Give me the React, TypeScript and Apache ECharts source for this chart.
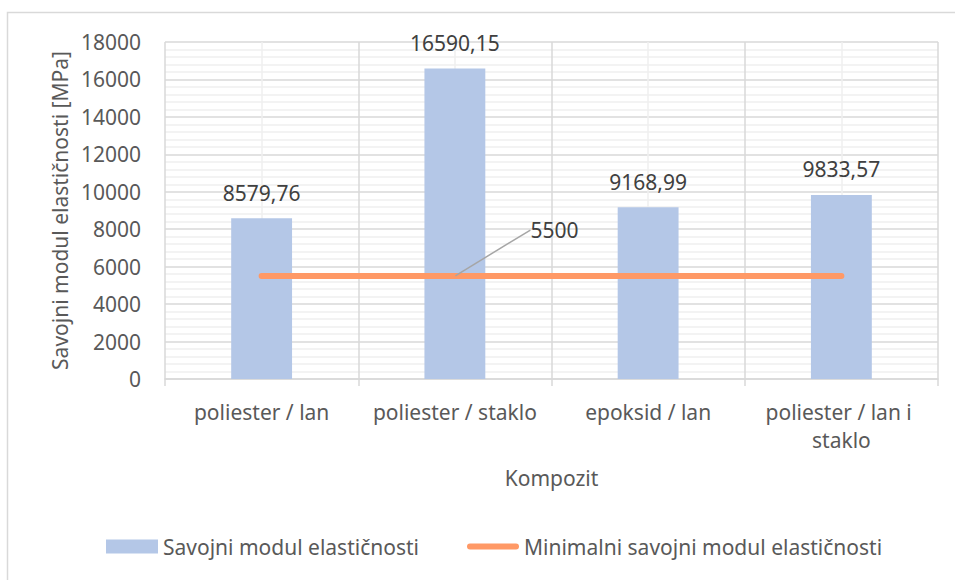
import React, { useEffect, useRef } from "react";
import * as echarts from "echarts";

const categories = ["poliester / lan", "poliester / staklo", "epoksid / lan", "poliester / lan i staklo"];
const modulusValues = [8579.76, 16590.15, 9168.99, 9833.57];
const minimumValues = [5500, 5500, 5500, 5500];
const seriesNames = ["Savojni modul elastičnosti", "Minimalni savojni modul elastičnosti"];
const yAxisTitle = "Savojni modul elastičnosti [MPa]";
const xAxisTitle = "Kompozit";
const labelledMinIndex = 1;

const FONT = "'Noto Sans', sans-serif";
const TEXT = "#595959";
const DARK = "#404040";
const GRID = "#D9D9D9";
const MINOR = "#EFEFEF";
const BAR = "#B4C7E7";
const ORANGE = "#FF9966";

export default function App() {
  const ref = useRef<HTMLDivElement>(null);
  useEffect(() => {
    if (!ref.current) return;
    const chart = echarts.init(ref.current, null, { renderer: "svg" });
    const fmt = (v: number) => v.toFixed(2).replace(".", ",");
    chart.setOption({
      animation: false,
      textStyle: { fontFamily: FONT },
      graphic: [
        {
          type: "rect",
          z: -10,
          shape: { x: 7.5, y: 12.5, width: 960, height: 580 },
          style: { fill: "none", stroke: GRID, lineWidth: 1.5 },
        },
      ],
      grid: { left: 165, right: 17, top: 42, bottom: 201 },
      legend: {
        left: 106,
        top: 536,
        padding: 0,
        itemWidth: 52,
        itemHeight: 14,
        itemGap: 48,
        textStyle: { fontSize: 21, color: TEXT, fontFamily: FONT },
        data: [
          { name: seriesNames[0], icon: "rect" },
          {
            name: seriesNames[1],
            icon: "path://M3,0 L49,0 A3,3 0 0 1 49,6 L3,6 A3,3 0 0 1 3,0 Z",
          },
        ],
      },
      xAxis: [
        {
          type: "category",
          data: categories,
          name: xAxisTitle,
          nameLocation: "middle",
          nameGap: 88,
          nameTextStyle: { fontSize: 21, color: TEXT },
          axisLine: { lineStyle: { color: GRID, width: 1.5 } },
          axisTick: { show: true, length: 7, lineStyle: { color: GRID, width: 1.5 } },
          splitLine: { show: true, lineStyle: { color: GRID, width: 1.5 } },
          axisLabel: {
            fontSize: 21,
            color: TEXT,
            margin: 19,
            lineHeight: 28,
            width: 185,
            overflow: "break",
            interval: 0,
          },
        },
        {
          type: "value",
          min: 0,
          max: 4,
          interval: 1,
          show: true,
          axisLine: { show: false },
          axisTick: { show: false },
          axisLabel: { show: false },
          splitLine: { show: false },
          minorTick: { show: false, splitNumber: 2 },
          minorSplitLine: { show: true, lineStyle: { color: MINOR, width: 1.5 } },
        },
      ],
      yAxis: {
        type: "value",
        min: 0,
        max: 18000,
        interval: 2000,
        name: yAxisTitle,
        nameLocation: "middle",
        nameRotate: 90,
        nameGap: 95,
        nameTextStyle: { fontSize: 21, color: TEXT },
        axisLine: { show: false },
        axisTick: { show: false },
        axisLabel: { fontSize: 21, color: TEXT, margin: 24, formatter: (v: number) => String(v) },
        splitLine: { show: true, lineStyle: { color: GRID, width: 1.5 } },
        minorTick: { show: false, splitNumber: 5 },
        minorSplitLine: { show: true, lineStyle: { color: MINOR, width: 1.5 } },
      },
      series: [
        {
          name: seriesNames[0],
          type: "bar",
          data: modulusValues,
          barWidth: "31.5%",
          itemStyle: { color: BAR },
          label: {
            show: true,
            position: "top",
            distance: 15,
            fontSize: 21,
            color: DARK,
            formatter: (p: any) => fmt(p.value),
          },
        },
        {
          name: seriesNames[1],
          type: "line",
          data: minimumValues.map((v, i) =>
            i === labelledMinIndex ? { value: v, label: { show: true }, labelLine: { show: true } } : v
          ),
          symbol: "circle",
          symbolSize: 1,
          showSymbol: true,
          color: ORANGE,
          itemStyle: { color: ORANGE },
          lineStyle: { width: 6, color: ORANGE, cap: "round" },
          label: {
            show: false,
            position: "right",
            fontSize: 21,
            color: DARK,
            formatter: (p: any) => String(p.value),
          },
          labelLine: { show: false, lineStyle: { color: "#A6A6A6", width: 1.5 } },
          labelLayout: (p: any) => (p.dataIndex === labelledMinIndex ? { dx: 70, dy: -46 } : {}),
          z: 3,
        },
      ],
    });
    return () => chart.dispose();
  }, []);
  return <div ref={ref} style={{ position: "absolute", left: 0, top: 0, width: 955, height: 580 }} />;
}
